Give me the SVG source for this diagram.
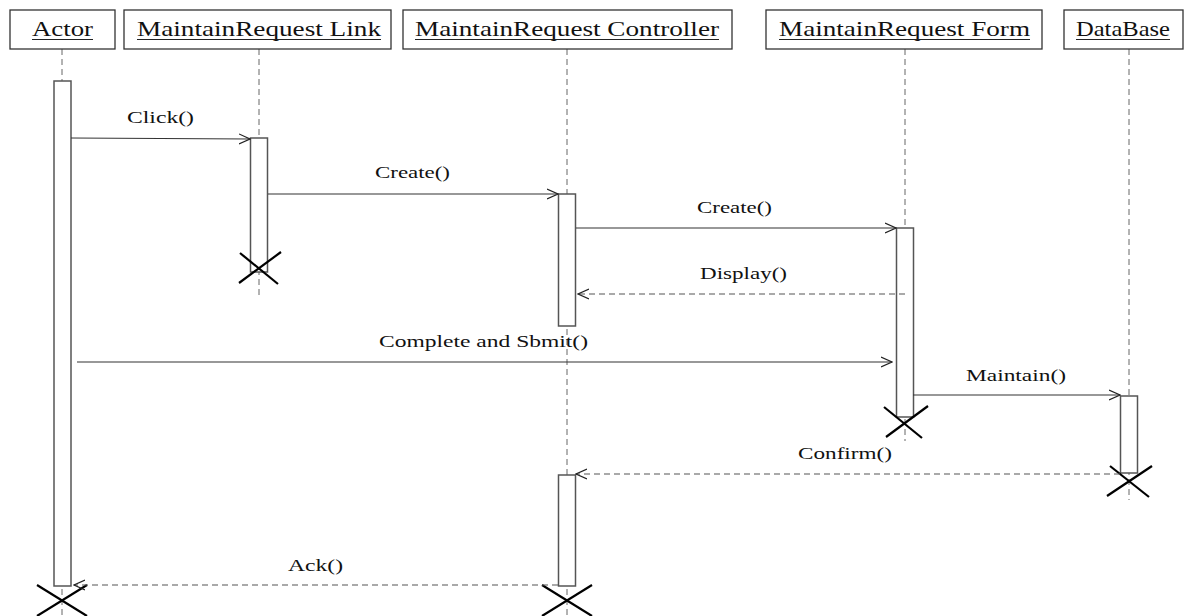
<svg xmlns="http://www.w3.org/2000/svg" width="1194" height="616" viewBox="0 0 1194 616">
  <style>
    .head { fill: #fff; stroke: #333; stroke-width: 1.3; }
    .htxt { font-family: "Liberation Serif", "DejaVu Serif", "Times New Roman", serif; font-size: 22px; fill: #111; }
    .uline { stroke: #222; stroke-width: 1.2; }
    .life { stroke: #666; stroke-width: 1; stroke-dasharray: 6 4; fill: none; }
    .act { fill: #fff; stroke: #555; stroke-width: 1.5; }
    .msg { stroke: #333; stroke-width: 1.2; fill: none; }
    .ret { stroke: #555; stroke-width: 1.1; fill: none; stroke-dasharray: 6 4; }
    .lbl { font-family: "Liberation Serif", "DejaVu Serif", "Times New Roman", serif; font-size: 17px; fill: #111; }
    .kill { stroke: #000; stroke-width: 2.2; }
  </style>
  <defs>
    <marker id="open" viewBox="0 0 12 12" refX="11" refY="6" markerWidth="12" markerHeight="12" markerUnits="userSpaceOnUse" orient="auto">
      <path d="M0,1 L11,6 L0,11" fill="none" stroke="#222" stroke-width="1.2"/>
    </marker>
  </defs>

  <rect width="1194" height="616" fill="#fff"/>

  <!-- lifelines -->
  <g id="lifelines">
    <line class="life" x1="62" y1="49" x2="62" y2="616"/>
    <line class="life" x1="259" y1="49" x2="259" y2="296"/>
    <line class="life" x1="567" y1="49" x2="567" y2="616"/>
    <line class="life" x1="905" y1="49" x2="905" y2="441"/>
    <line class="life" x1="1129" y1="49" x2="1129" y2="500"/>
  </g>

  <!-- Actor -->
  <g id="actor">
    <rect class="head" x="10" y="10" width="105" height="39"/>
    <text class="htxt" x="32" y="36" textLength="61" lengthAdjust="spacingAndGlyphs">Actor</text>
    <line class="uline" x1="32" y1="39.5" x2="93" y2="39.5"/>
    <rect class="act" x="54" y="81" width="17" height="505"/>
    <line class="kill" x1="37" y1="585" x2="87" y2="616"/>
    <line class="kill" x1="87" y1="585" x2="37" y2="616"/>
  </g>

  <!-- MaintainRequest Link -->
  <g id="link">
    <rect class="head" x="124" y="10" width="267" height="39"/>
    <text class="htxt" x="137" y="36" textLength="244" lengthAdjust="spacingAndGlyphs">MaintainRequest Link</text>
    <line class="uline" x1="137" y1="39.5" x2="381" y2="39.5"/>
    <rect class="act" x="250.5" y="138" width="17" height="134"/>
    <line class="kill" x1="240" y1="253" x2="278" y2="284"/>
    <line class="kill" x1="281" y1="252" x2="239" y2="283"/>
  </g>

  <!-- MaintainRequest Controller -->
  <g id="controller">
    <rect class="head" x="403" y="10" width="329" height="39"/>
    <text class="htxt" x="415" y="36" textLength="304" lengthAdjust="spacingAndGlyphs">MaintainRequest Controller</text>
    <line class="uline" x1="415" y1="39.5" x2="719" y2="39.5"/>
    <rect class="act" x="558.5" y="194" width="17" height="132"/>
    <rect class="act" x="558.5" y="475" width="17" height="111"/>
    <line class="kill" x1="542" y1="585" x2="592" y2="616"/>
    <line class="kill" x1="592" y1="585" x2="542" y2="616"/>
  </g>

  <!-- MaintainRequest Form -->
  <g id="form">
    <rect class="head" x="766" y="10" width="276" height="39"/>
    <text class="htxt" x="779" y="36" textLength="251" lengthAdjust="spacingAndGlyphs">MaintainRequest Form</text>
    <line class="uline" x1="779" y1="39.5" x2="1030" y2="39.5"/>
    <rect class="act" x="896.5" y="228" width="17" height="189"/>
    <line class="kill" x1="884" y1="407" x2="922" y2="438"/>
    <line class="kill" x1="928" y1="406" x2="886" y2="437"/>
  </g>

  <!-- DataBase -->
  <g id="database">
    <rect class="head" x="1064" y="10" width="119" height="39"/>
    <text class="htxt" x="1076" y="36" textLength="94" lengthAdjust="spacingAndGlyphs">DataBase</text>
    <line class="uline" x1="1076" y1="39.5" x2="1170" y2="39.5"/>
    <rect class="act" x="1120.5" y="396" width="17" height="77"/>
    <line class="kill" x1="1110" y1="466" x2="1149" y2="497"/>
    <line class="kill" x1="1152" y1="466" x2="1107" y2="496"/>
  </g>

  <!-- messages -->
  <g id="connectors">
    <line class="msg" x1="71" y1="138" x2="250" y2="139" marker-end="url(#open)"/>
    <text class="lbl" x="127" y="123" textLength="67" lengthAdjust="spacingAndGlyphs">Click()</text>

    <line class="msg" x1="268" y1="194" x2="558" y2="194" marker-end="url(#open)"/>
    <text class="lbl" x="375" y="178" textLength="75" lengthAdjust="spacingAndGlyphs">Create()</text>

    <line class="msg" x1="576" y1="228" x2="896" y2="228" marker-end="url(#open)"/>
    <text class="lbl" x="697" y="213" textLength="75" lengthAdjust="spacingAndGlyphs">Create()</text>

    <line class="ret" x1="905" y1="294" x2="578" y2="294" marker-end="url(#open)"/>
    <text class="lbl" x="700" y="279" textLength="87" lengthAdjust="spacingAndGlyphs">Display()</text>

    <line class="msg" x1="77" y1="362" x2="892" y2="362" marker-end="url(#open)"/>
    <text class="lbl" x="379" y="347" textLength="209" lengthAdjust="spacingAndGlyphs">Complete and Sbmit()</text>

    <line class="msg" x1="913" y1="395" x2="1120" y2="395" marker-end="url(#open)"/>
    <text class="lbl" x="966" y="381" textLength="100" lengthAdjust="spacingAndGlyphs">Maintain()</text>

    <line class="ret" x1="1120" y1="474" x2="576" y2="474" marker-end="url(#open)"/>
    <text class="lbl" x="798" y="459" textLength="94" lengthAdjust="spacingAndGlyphs">Confirm()</text>

    <line class="ret" x1="558" y1="585" x2="74" y2="585" marker-end="url(#open)"/>
    <text class="lbl" x="288" y="571" textLength="55" lengthAdjust="spacingAndGlyphs">Ack()</text>
  </g>
</svg>
